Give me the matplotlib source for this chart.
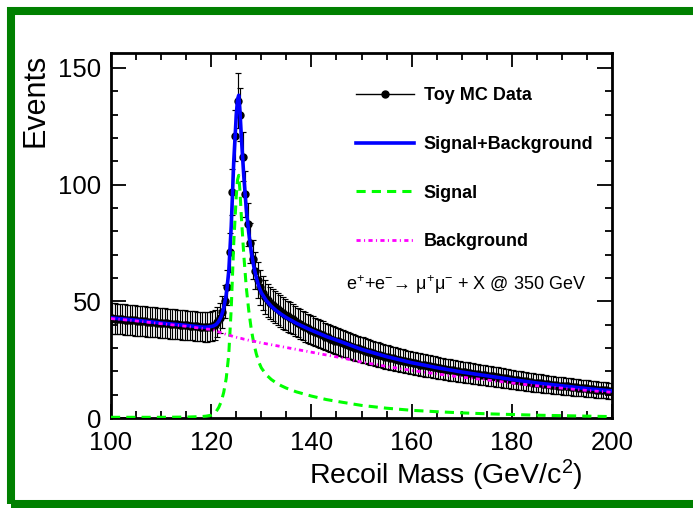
import numpy as np
import matplotlib.pyplot as plt
from matplotlib.lines import Line2D
from matplotlib.patches import Rectangle
from matplotlib.ticker import MultipleLocator

plt.rcParams['font.family'] = ['Liberation Sans', 'DejaVu Sans']
plt.rcParams['mathtext.fontset'] = 'custom'
plt.rcParams['mathtext.rm'] = 'Liberation Sans'
plt.rcParams['mathtext.it'] = 'Liberation Sans:italic'
plt.rcParams['mathtext.bf'] = 'Liberation Sans:bold'

# toy MC histogram: 200 bins of 0.5 GeV between 100 and 200 GeV
bin_width = 0.5
mass = np.arange(100 + bin_width / 2, 200, bin_width)
events = np.array([
    42.7, 42.6, 42.5, 42.4, 42.3, 42.2, 42.1, 42.0, 41.9, 41.8,
    41.7, 41.6, 41.5, 41.4, 41.3, 41.2, 41.1, 41.0, 40.9, 40.8,
    40.7, 40.6, 40.5, 40.4, 40.3, 40.2, 40.1, 40.0, 39.9, 39.8,
    39.7, 39.6, 39.5, 39.4, 39.3, 39.2, 39.1, 39.0, 39.0, 39.1,
    39.4, 39.9, 41.0, 42.8, 45.5, 50.0, 56.0, 71.0, 97.0, 121.0,
    136.0, 130.0, 112.0, 96.0, 83.0, 75.0, 68.0, 63.0, 59.0, 56.0,
    53.5, 51.8, 50.4, 49.3, 48.3, 47.4, 46.6, 45.8, 45.0, 44.3,
    43.6, 43.0, 42.3, 41.6, 40.9, 40.3, 39.6, 39.0, 38.4, 37.9,
    37.4, 36.9, 36.4, 35.9, 35.4, 34.9, 34.5, 34.0, 33.6, 33.2,
    32.8, 32.4, 32.0, 31.6, 31.2, 30.8, 30.5, 30.1, 29.8, 29.4,
    29.1, 28.8, 28.4, 28.1, 27.8, 27.5, 27.2, 26.9, 26.6, 26.3,
    26.1, 25.8, 25.5, 25.3, 25.0, 24.8, 24.5, 24.3, 24.0, 23.8,
    23.6, 23.4, 23.1, 22.9, 22.7, 22.5, 22.3, 22.1, 21.9, 21.7,
    21.5, 21.3, 21.1, 20.9, 20.7, 20.6, 20.4, 20.2, 20.0, 19.9,
    19.7, 19.5, 19.4, 19.2, 19.0, 18.9, 18.7, 18.6, 18.4, 18.3,
    18.1, 17.9, 17.8, 17.6, 17.5, 17.3, 17.1, 17.0, 16.8, 16.6,
    16.4, 16.3, 16.1, 16.0, 15.8, 15.7, 15.5, 15.4, 15.2, 15.1,
    14.9, 14.8, 14.7, 14.5, 14.4, 14.3, 14.2, 14.0, 13.9, 13.8,
    13.7, 13.6, 13.5, 13.3, 13.2, 13.1, 13.0, 12.9, 12.8, 12.7,
    12.6, 12.5, 12.4, 12.2, 12.1, 12.0, 11.9, 11.8, 11.7, 11.6,
])
errors = np.sqrt(events)

# fitted model, evaluated on a grid that is finer around the peak
curve_x = np.array([
    100, 105, 110, 115, 118, 119, 120, 120.5, 121, 121.5,
    122, 122.5, 123, 123.5, 124, 124.5, 125, 125.25, 125.5, 125.75,
    126, 126.5, 127, 127.5, 128, 128.5, 129, 129.5, 130, 131,
    132, 133, 134, 135, 137, 140, 143, 146, 150, 155,
    160, 165, 170, 175, 180, 185, 190, 195, 200,
])
background = np.array([
    42.6, 41.6, 40.4, 39.3, 38.4, 38.1, 38.0, 37.7, 37.3, 36.9,
    36.5, 36.2, 35.8, 35.5, 35.2, 34.9, 34.6, 34.5, 34.3, 34.2,
    34.1, 33.8, 33.6, 33.3, 33.1, 32.9, 32.7, 32.4, 32.2, 31.8,
    31.4, 31.0, 30.6, 30.2, 29.4, 28.2, 27.0, 25.8, 24.0, 22.1,
    20.4, 18.9, 17.5, 16.3, 15.0, 13.8, 12.8, 11.8, 11.0,
])
signal = np.array([
    0.3, 0.3, 0.3, 0.4, 0.6, 0.8, 1.2, 1.8, 2.8, 4.5,
    7.0, 11.0, 17.0, 27.0, 47.0, 75.0, 95.0, 102.0, 104.0, 97.0,
    87.0, 70.0, 56.0, 46.0, 38.0, 32.0, 27.5, 24.0, 21.5, 18.5,
    16.5, 15.0, 13.8, 12.8, 11.2, 9.4, 7.9, 6.8, 5.4, 4.2,
    3.3, 2.7, 2.2, 1.8, 1.5, 1.2, 1.0, 0.8, 0.6,
])
total = signal + background

green_dash = (3, 2)
magenta_dash = (0, (1.5, 1.2, 0.4, 1.2))

fig = plt.figure(figsize=(6.93, 5.08), dpi=100)
ax = fig.add_axes([111 / 693, 1 - 418 / 508, 501 / 693, 365 / 508])

ax.errorbar(mass, events, yerr=errors, fmt='o', color='black', ms=5,
            elinewidth=0.85, capsize=2.2, capthick=0.85, zorder=2)
ax.plot(curve_x, total, color='#0000ff', lw=2.6, zorder=3)
ax.plot(curve_x, signal, color='#00ff00', lw=2.2, dashes=green_dash, zorder=4)
ax.plot(curve_x, background, color='#ff00ff', lw=2, linestyle=magenta_dash,
        zorder=5)

ax.set_xlim(100, 200)
ax.set_ylim(0, 156.4)
ax.xaxis.set_major_locator(MultipleLocator(20))
ax.xaxis.set_minor_locator(MultipleLocator(5))
ax.yaxis.set_major_locator(MultipleLocator(50))
ax.yaxis.set_minor_locator(MultipleLocator(10))
ax.tick_params(which='both', direction='in', top=True, right=True, width=1.3)
ax.tick_params(axis='x', which='major', length=10, labelsize=18.5, pad=9)
ax.tick_params(axis='x', which='minor', length=5)
ax.tick_params(axis='y', which='major', length=10.5, labelsize=18.5, pad=7)
ax.tick_params(axis='y', which='minor', length=5)
for sp in ax.spines.values():
    sp.set_linewidth(2)

handles = [
    Line2D([], [], color='black', lw=1, marker='o', ms=5),
    Line2D([], [], color='#0000ff', lw=2.6),
    Line2D([], [], color='#00ff00', lw=2.2, dashes=green_dash),
    Line2D([], [], color='#ff00ff', lw=2, linestyle=magenta_dash),
]
labels = ['Toy MC Data', 'Signal+Background', 'Signal', 'Background']
ax.legend(handles, labels, loc='upper left', bbox_to_anchor=(0.489, 0.906),
          frameon=False, prop={'weight': 'bold', 'size': 13},
          handlelength=3.2, handletextpad=0.55, labelspacing=1.75,
          borderaxespad=0, borderpad=0)

ax.text(146.9, 54.8, 'e$^{+}$+e$^{-}$→ μ$^{+}$μ$^{-}$ + X @ 350 GeV',
        fontsize=13, va='baseline', ha='left')

fig.text(35 / 693, 1 - 100 / 508, 'Events', rotation=90,
         ha='center', va='center', fontsize=22)
fig.text(583 / 693, 1 - 484 / 508, 'Recoil Mass (GeV/c$^{2}$)',
         ha='right', va='baseline', fontsize=20.5)

# green frame around the canvas, open on the right
fig.add_artist(Rectangle((11 / 693, 4 / 508), 1.2, 1 - 15 / 508,
                         transform=fig.transFigure, fill=False,
                         edgecolor='#008000', lw=5.8))

fig.savefig('out.png', dpi=100)
